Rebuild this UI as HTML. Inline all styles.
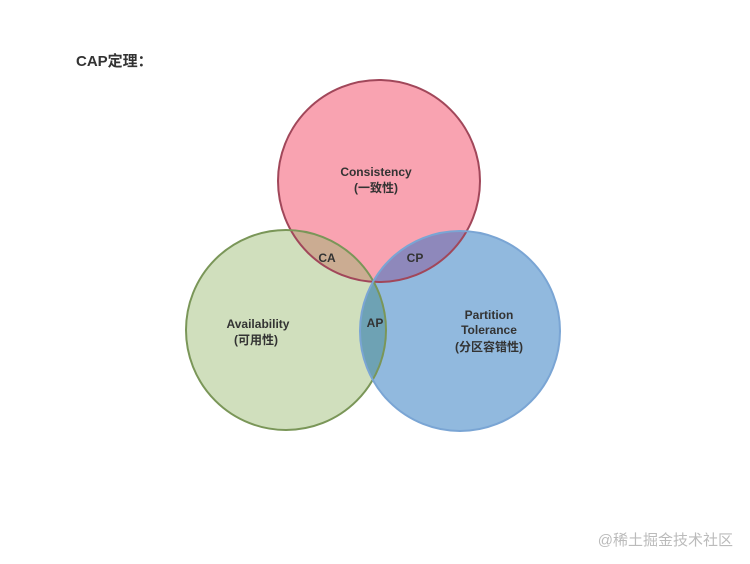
<!DOCTYPE html><html><head><style>body{margin:0;background:#fff}svg{display:block}text{font-family:"Liberation Sans","Noto Sans CJK SC",sans-serif;font-weight:bold;fill:#333}</style></head><body>
<svg width="750" height="564" viewBox="0 0 750 564">
<defs>
<clipPath id="r"><ellipse cx="379" cy="181" rx="101" ry="101"/></clipPath>
<clipPath id="g"><ellipse cx="286" cy="330" rx="100" ry="100"/></clipPath>
</defs>
<text x="76" y="66" font-size="15">CAP定理：</text>
<ellipse cx="379" cy="181" rx="101" ry="101" fill="#f9a3b1"/>
<ellipse cx="286" cy="330" rx="100" ry="100" fill="#d0dfbd"/>
<ellipse cx="460" cy="331" rx="100" ry="100" fill="#91b9de"/>
<g clip-path="url(#r)"><ellipse cx="286" cy="330" rx="100" ry="100" fill="#cbac92"/><ellipse cx="460" cy="331" rx="100" ry="100" fill="#8e88bb"/></g>
<g clip-path="url(#g)"><ellipse cx="460" cy="331" rx="100" ry="100" fill="#6ea2b4"/></g>
<ellipse cx="379" cy="181" rx="101" ry="101" fill="none" stroke="#a1475a" stroke-width="2"/>
<ellipse cx="286" cy="330" rx="100" ry="100" fill="none" stroke="#7a9658" stroke-width="2"/>
<ellipse cx="460" cy="331" rx="100" ry="100" fill="none" stroke="#7aa5d4" stroke-width="2"/>
<g font-size="12" text-anchor="middle">
<text x="376" y="176">Consistency</text><text x="376" y="192">(一致性)</text>
<text x="258" y="328">Availability</text><text x="256" y="344">(可用性)</text>
<text x="489" y="319">Partition</text><text x="489" y="334">Tolerance</text><text x="489" y="351">(分区容错性)</text>
<text x="327" y="262">CA</text><text x="415" y="262">CP</text><text x="375" y="327">AP</text>
</g>
<text x="733" y="545" font-size="15" text-anchor="end" style="font-weight:normal;fill:#bbb">@稀土掘金技术社区</text>
</svg></body></html>
